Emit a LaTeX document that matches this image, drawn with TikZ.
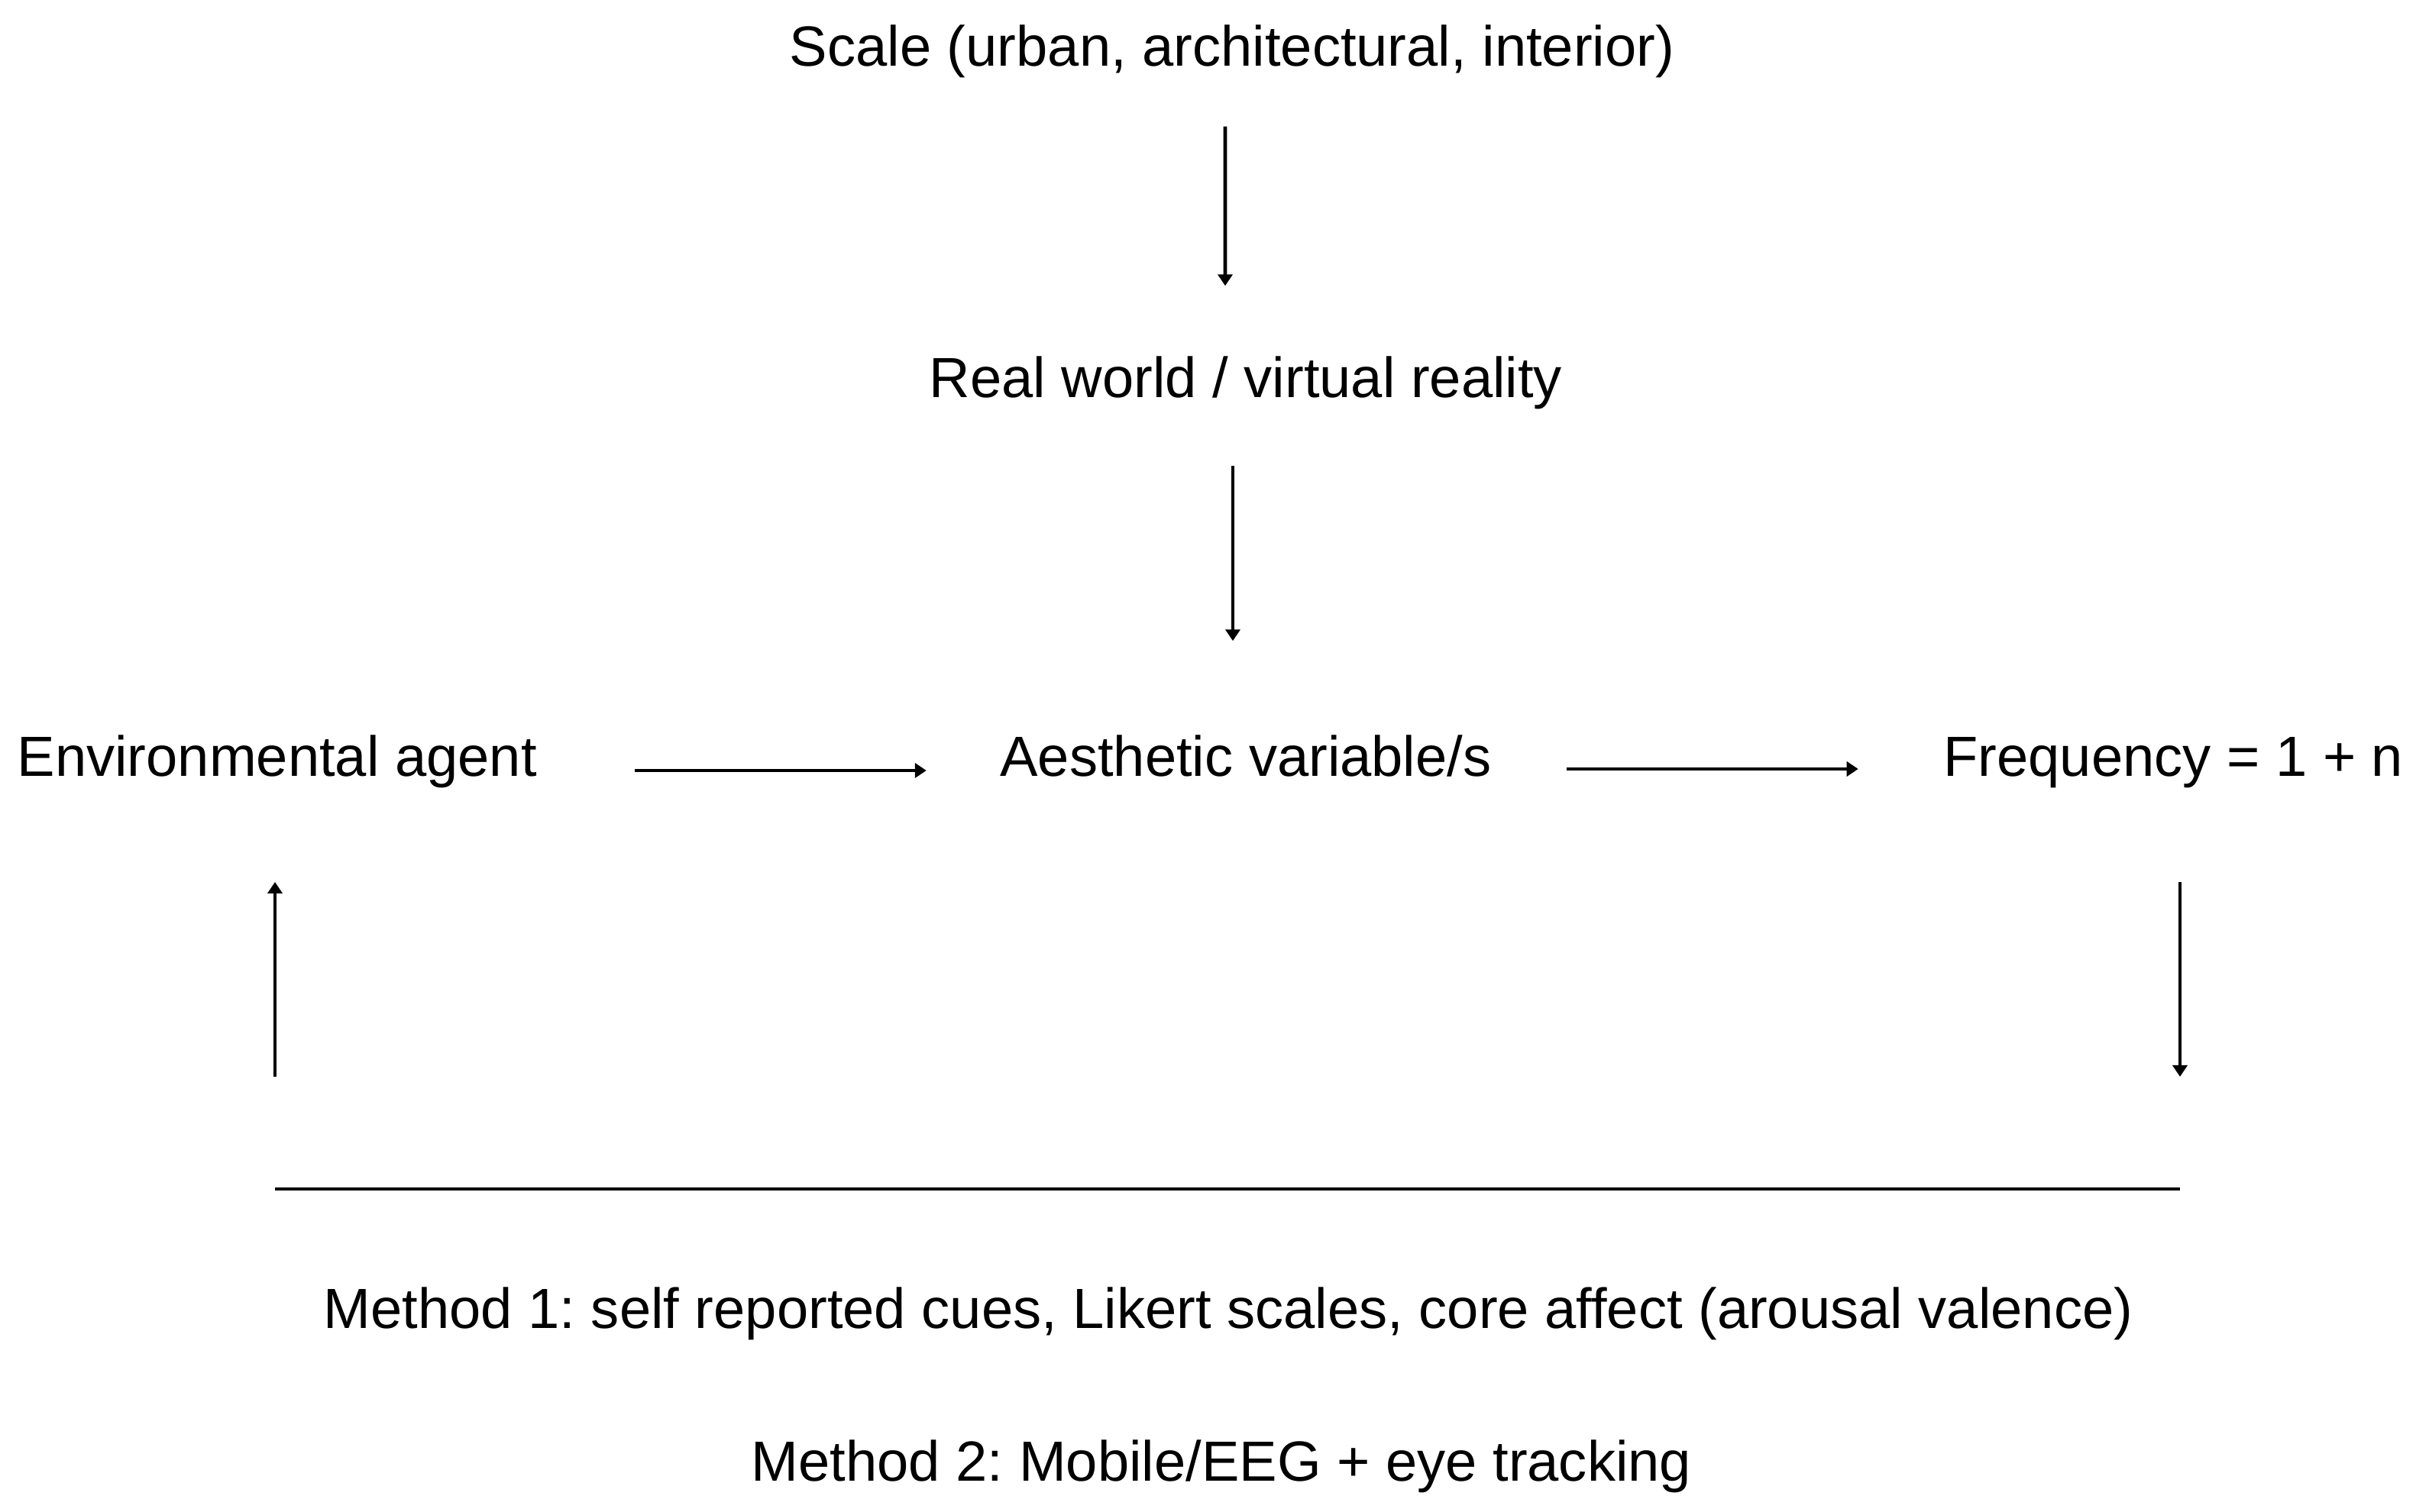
\documentclass[tikz,border=0pt]{standalone}
\usepackage{fontspec}
\setmainfont{Liberation Sans}
\frenchspacing
\usetikzlibrary{arrows.meta}
\tikzstyle{txt} = [inner sep=0pt,text height=0.55cm,text depth=0.15cm,font=\fontsize{21.1pt}{25pt}\selectfont]
\tikzstyle{flow} = [line width=1.3pt,-{Triangle[length=0.15cm,width=0.19cm]}]
\tikzstyle{rule} = [line width=1.3pt]

\begin{document}
\begin{tikzpicture}
    \useasboundingbox (0,0) rectangle (31.8,19.8);

    \node (scale) [txt,anchor=base] at (16.13,18.93) {Scale (urban, architectural, interior)};
    \node (real) [txt,anchor=base] at (16.31,14.59) {Real world / virtual reality};

    \node (env) [txt,anchor=base west] at (0.22,9.63) {Environmental agent};
    \node (aes) [txt,anchor=base] at (16.31,9.63) {Aesthetic variable/s};
    \node (freq) [txt,anchor=base east] at (31.47,9.63) {Frequency = 1 + n};

    \node (m1) [txt,anchor=base] at (16.08,2.40) {Method 1: self reported cues, Likert scales, core affect (arousal valence)};
    \node (m2) [txt,anchor=base] at (15.99,0.40) {Method 2: Mobile/EEG + eye tracking};

    \coordinate (rl) at (3.60,4.23);
    \coordinate (rr) at (28.54,4.23);

    \draw [flow] ([shift={(-0.09,-0.63)}]scale.south) -- ([shift={(-0.27,0.91)}]real.north);
    \draw [flow] ([shift={(-0.17,-0.73)}]real.south) -- ([shift={(-0.17,1.22)}]aes.north);

    \draw [flow] ([shift={(1.27,-0.12)}]env.east) -- ([shift={(-0.96,-0.12)}]aes.west);
    \draw [flow] ([shift={(0.98,-0.10)}]aes.east) -- ([shift={(-1.11,-0.10)}]freq.west);

    \draw [rule] (rl) -- (rr);
    \draw [flow] ([yshift=1.47cm]rl) -- ([yshift=4.02cm]rl);
    \draw [flow] ([yshift=4.02cm]rr) -- ([yshift=1.47cm]rr);

\end{tikzpicture}
\end{document}
